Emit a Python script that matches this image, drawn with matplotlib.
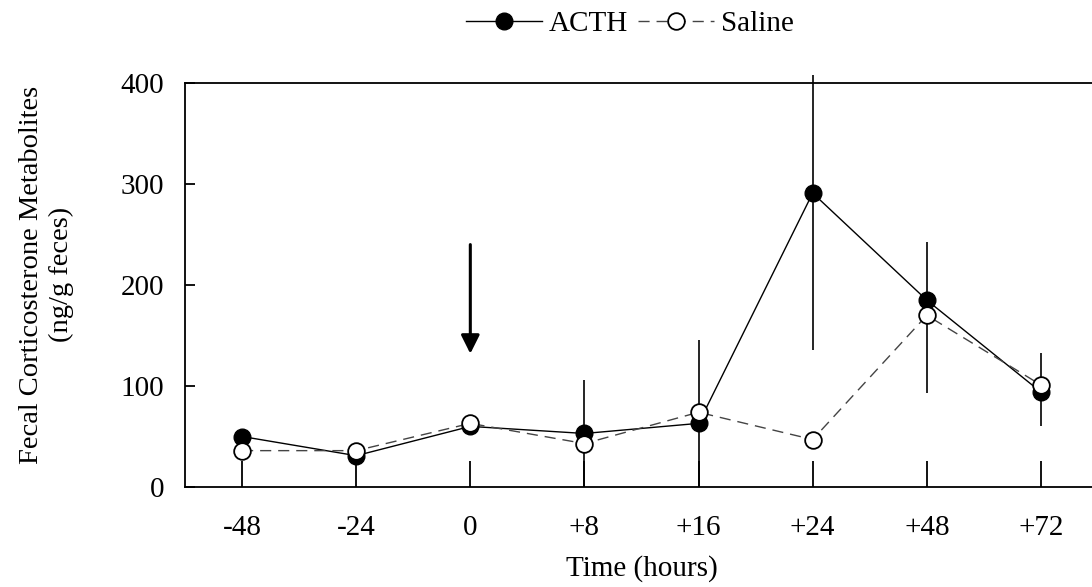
import matplotlib.pyplot as plt
import numpy as np

plt.rcParams['font.family'] = ['Liberation Serif', 'DejaVu Serif']

# data
times = ['-48', '-24', '0', '+8', '+16', '+24', '+48', '+72']
acth = [50, 31, 60, 53, 63, 291, 185, 94]
acth_err_lo = [0, 0, 8, 53, 63, 155, 92, 34]
acth_err_hi = [0, 0, 0, 53, 83, 117, 58, 39]
saline = [36, 36, 63, 43, 74, 47, 170, 101]

x = np.arange(len(times))

fig = plt.figure(figsize=(10.92, 5.87), dpi=100)
ax = fig.add_axes([185 / 1092, 100 / 587, 913 / 1092, 404 / 587])

# error bars (vertical lines only, no caps)
ax.errorbar(x, acth, yerr=[acth_err_lo, acth_err_hi], fmt='none',
            ecolor='black', elinewidth=1.2, capsize=0, zorder=2)
for c in ax.collections:
    c.set_clip_on(False)

ax.plot(x, acth, '-o', color='black', lw=1.0, markersize=12,
        markerfacecolor='black', markeredgecolor='black', label='ACTH', zorder=3)
ax.plot(x, saline, '--o', color='#444444', lw=1.0, dashes=(8, 5), markersize=12,
        markerfacecolor='white', markeredgecolor='black', markeredgewidth=1.3,
        label='Saline', zorder=4)

# injection arrow at time 0
ax.annotate('', xy=(2, 132), xytext=(2, 240),
            arrowprops=dict(arrowstyle='-|>', lw=2.2, color='black',
                            mutation_scale=28, shrinkA=0, shrinkB=0))

ax.set_xlim(-0.5, 7.5)
ax.set_ylim(0, 400)
ax.set_xticks(x)
ax.set_xticklabels(times)
ax.set_yticks([0, 100, 200, 300, 400])

ax.tick_params(axis='x', direction='in', length=19, width=1.3, labelsize=21, pad=20)
ax.tick_params(axis='y', direction='in', length=7, width=1.3, labelsize=21, pad=15)
for s in ['left', 'bottom', 'top']:
    ax.spines[s].set_linewidth(1.3)
ax.spines['right'].set_visible(False)

ax.set_xlabel('Time (hours)', fontsize=21, labelpad=10)
ax.set_ylabel('Fecal Corticosterone Metabolites\n(ng/g feces)', fontsize=20.5,
              linespacing=1.25)
ax.yaxis.set_label_coords(-0.122, 0.525)

fig.legend(loc='upper center', bbox_to_anchor=(630 / 1092, 1.007), ncol=2,
           frameon=False, fontsize=21, handlelength=2.6, handletextpad=0.25,
           columnspacing=0.35, borderaxespad=0.1)

fig.savefig('out.png', dpi=100)
